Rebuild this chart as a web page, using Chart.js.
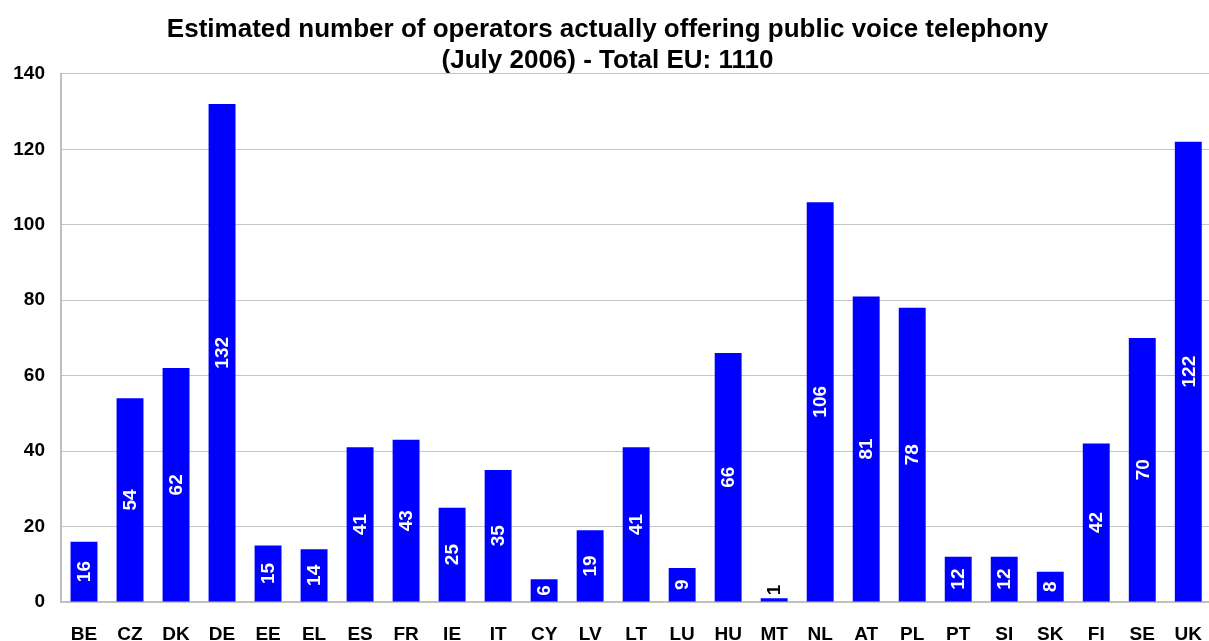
<!DOCTYPE html>
<html>
<head>
<meta charset="utf-8">
<script src="https://cdn.jsdelivr.net/npm/chart.js@4"></script>
<style>
  html, body { margin: 0; padding: 0; background: #fff; overflow: hidden; }
  #wrap { width: 1215px; height: 641px; }
</style>
</head>
<body>
<div id="wrap"><canvas id="chart" width="1215" height="641"></canvas></div>
<script>
const countries = ["BE", "CZ", "DK", "DE", "EE", "EL", "ES", "FR", "IE", "IT", "CY", "LV", "LT",
  "LU", "HU", "MT", "NL", "AT", "PL", "PT", "SI", "SK", "FI", "SE", "UK"];
const operators = [16, 54, 62, 132, 15, 14, 41, 43, 25, 35, 6, 19, 41,
  9, 66, 1, 106, 81, 78, 12, 12, 8, 42, 70, 122];
const yTicks = [0, 20, 40, 60, 80, 100, 120, 140];
const titleLines = ["Estimated number of operators actually offering public voice telephony",
  "(July 2006) - Total EU: 1110"];

const FONT = "Arial, 'Liberation Sans', sans-serif";

// rotated value labels inside the bars
const barLabels = {
  id: "barLabels",
  afterDatasetsDraw(chart) {
    const ctx = chart.ctx;
    const meta = chart.getDatasetMeta(0);
    ctx.save();
    ctx.font = "bold 19px " + FONT;
    meta.data.forEach((bar, i) => {
      const txt = String(operators[i]);
      const h = bar.base - bar.y;
      const w = ctx.measureText(txt).width;
      ctx.save();
      if (h > w + 4) {
        ctx.translate(bar.x, (bar.y + bar.base) / 2);
        ctx.rotate(-Math.PI / 2);
        ctx.fillStyle = "#fff";
        ctx.textAlign = "center";
      } else {
        ctx.translate(bar.x, bar.y - 3);
        ctx.rotate(-Math.PI / 2);
        ctx.fillStyle = "#000";
        ctx.textAlign = "left";
      }
      ctx.textBaseline = "middle";
      ctx.fillText(txt, 0, 1);
      ctx.restore();
    });
    ctx.restore();
  }
};

new Chart(document.getElementById("chart"), {
  type: "bar",
  data: {
    labels: countries,
    datasets: [{
      data: operators,
      backgroundColor: "#0000ff",
      borderWidth: 0,
      categoryPercentage: 0.585,
      barPercentage: 1
    }]
  },
  options: {
    responsive: false,
    animation: false,
    layout: { padding: 0 },
    plugins: {
      legend: { display: false },
      tooltip: { enabled: false },
      title: {
        display: true,
        text: titleLines,
        color: "#000",
        font: { family: FONT, size: 26, weight: "bold", lineHeight: 1.19 },
        padding: { top: 14, bottom: -2 }
      }
    },
    scales: {
      x: {
        grid: { display: false },
        border: { color: "#c0c0c0", width: 2 },
        ticks: { color: "#000", font: { family: FONT, size: 19, weight: "bold" }, padding: 13, maxRotation: 0, autoSkip: false },
        afterFit(s) { s.height = 39; }
      },
      y: {
        min: 0,
        max: 140,
        afterBuildTicks(s) { s.ticks = yTicks.map(v => ({ value: v })); },
        grid: { color: "#c4c4c4", lineWidth: 1, drawTicks: false },
        border: { color: "#c0c0c0", width: 2 },
        ticks: { color: "#000", font: { family: FONT, size: 19, weight: "bold" }, padding: 16 },
        afterFit(s) { s.width = 61; }
      }
    }
  },
  plugins: [barLabels]
});
</script>
</body>
</html>
